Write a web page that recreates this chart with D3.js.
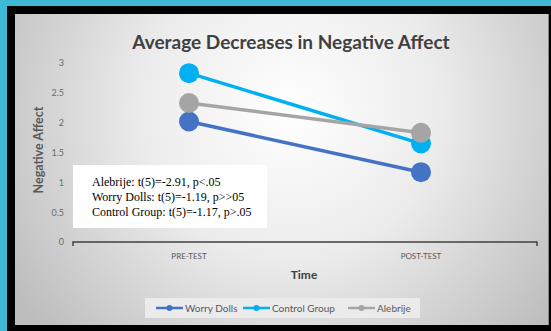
<!DOCTYPE html>
<html>
<head>
<meta charset="utf-8">
<script src="https://cdn.jsdelivr.net/npm/d3@7"></script>
<style>
  html, body { margin: 0; padding: 0; background: #3fb8d4; }
  svg { display: block; }
</style>
</head>
<body>
<svg id="chart" width="551" height="331"></svg>
<script>
// Time points and group means of negative affect
const timePoints = ["PRE-TEST", "POST-TEST"];
const seriesNames = ["Worry Dolls", "Control Group", "Alebrije"];
const worryDolls = [2.02, 1.17];
const controlGroup = [2.83, 1.65];
const alebrije = [2.33, 1.83];
const yTicks = [0, 0.5, 1, 1.5, 2, 2.5, 3];
const statLines = [
  "Alebrije: t(5)=-2.91, p<.05",
  "Worry Dolls: t(5)=-1.19, p>>05",
  "Control Group: t(5)=-1.17, p>.05"
];

const colors = { "Worry Dolls": "#4472c4", "Control Group": "#00b0f0", "Alebrije": "#a5a5a5" };
const seriesData = [
  { name: "Alebrije", values: alebrije },
  { name: "Worry Dolls", values: worryDolls },
  { name: "Control Group", values: controlGroup }
];
// draw order: control on top of worry, alebrije on top at post
const drawOrder = ["Worry Dolls", "Control Group", "Alebrije"];

const svg = d3.select("#chart");
const uiFont = "Lato, 'Open Sans', sans-serif";

// frame: cyan outer, black band, gradient panel
svg.append("rect").attr("x", 0).attr("y", 0).attr("width", 551).attr("height", 331).attr("fill", "#3fb8d4");
svg.append("rect").attr("x", 7).attr("y", 6).attr("width", 544).attr("height", 325).attr("fill", "#000");

const defs = svg.append("defs");
const grad = defs.append("radialGradient").attr("id", "panelBg")
  .attr("gradientUnits", "userSpaceOnUse")
  .attr("cx", 290).attr("cy", 110).attr("r", 330);
grad.append("stop").attr("offset", "0%").attr("stop-color", "#ffffff");
grad.append("stop").attr("offset", "45%").attr("stop-color", "#ececec");
grad.append("stop").attr("offset", "100%").attr("stop-color", "#bdbdbd");

svg.append("rect").attr("x", 15).attr("y", 14).attr("width", 534).attr("height", 311)
  .attr("fill", "url(#panelBg)");
svg.append("line").attr("x1", 548.5).attr("x2", 548.5).attr("y1", 14).attr("y2", 325)
  .attr("stroke", "#8a8a8a").attr("stroke-width", 1);

// scales
const x = d3.scaleBand().domain(timePoints).range([73, 537]);
const y = d3.scaleLinear().domain([0, 3]).range([242, 63]);
const xc = d => x(d) + x.bandwidth() / 2;

// title
svg.append("text").attr("x", 291).attr("y", 49).attr("text-anchor", "middle")
  .attr("font-family", uiFont).attr("font-weight", "bold").attr("font-size", 19)
  .attr("fill", "#404040").text("Average Decreases in Negative Affect");

// y tick labels
const yAxis = d3.axisLeft(y).tickValues(yTicks).tickSize(0).tickPadding(0)
  .tickFormat(d => d3.format("")(d));
const gy = svg.append("g").attr("transform", "translate(64,0)").call(yAxis);
gy.select(".domain").remove();
gy.selectAll("text").attr("font-family", uiFont).attr("font-size", 9).attr("fill", "#6b6b6b");

// x axis
const xAxis = d3.axisBottom(x).tickSize(0).tickPadding(11);
const gx = svg.append("g").attr("transform", "translate(0,242)").call(xAxis);
gx.select(".domain").attr("stroke", "#404040").attr("stroke-width", 1.5)
  .attr("d", "M73,4V0H537V4");
gx.selectAll("text").attr("font-family", uiFont).attr("font-size", 8).attr("fill", "#595959");

// axis titles
svg.append("text").attr("transform", "translate(43,150) rotate(-90)").attr("text-anchor", "middle")
  .attr("font-family", uiFont).attr("font-weight", "bold").attr("font-size", 12.5)
  .attr("fill", "#595959").text("Negative Affect");
svg.append("text").attr("x", 304).attr("y", 279).attr("text-anchor", "middle")
  .attr("font-family", uiFont).attr("font-weight", "bold").attr("font-size", 12)
  .attr("fill", "#404040").text("Time");

// series lines and markers
const line = d3.line().x((d, i) => xc(timePoints[i])).y(d => y(d));
drawOrder.forEach(name => {
  const s = seriesData.find(e => e.name === name);
  const g = svg.append("g");
  g.append("path").attr("d", line(s.values)).attr("fill", "none")
    .attr("stroke", colors[name]).attr("stroke-width", 3.5);
  g.selectAll("circle").data(s.values).join("circle")
    .attr("cx", (d, i) => xc(timePoints[i])).attr("cy", d => y(d)).attr("r", 10)
    .attr("fill", colors[name]);
});

// statistics box
svg.append("rect").attr("x", 73).attr("y", 165).attr("width", 194).attr("height", 63).attr("fill", "#ffffff");
svg.append("g").selectAll("text").data(statLines).join("text")
  .attr("x", 92).attr("y", (d, i) => 186 + i * 15)
  .attr("font-family", "'Liberation Serif', 'Times New Roman', serif").attr("font-size", 12)
  .attr("fill", "#000").text(d => d);

// legend
const legend = svg.append("g");
legend.append("rect").attr("x", 145).attr("y", 298).attr("width", 275).attr("height", 20)
  .attr("fill", "#ebebeb");
const legendX = { "Worry Dolls": 156, "Control Group": 243, "Alebrije": 348 };
seriesNames.forEach(name => {
  const lx = legendX[name];
  const item = legend.append("g").attr("transform", `translate(${lx},308)`);
  item.append("line").attr("x1", 0).attr("x2", 27).attr("stroke", colors[name]).attr("stroke-width", 2.5);
  item.append("circle").attr("cx", 13.5).attr("r", 3).attr("fill", colors[name]);
  item.append("text").attr("x", 29).attr("y", 3.5).attr("font-family", uiFont).attr("font-size", 10)
    .attr("fill", "#595959").text(name);
});
</script>
</body>
</html>
